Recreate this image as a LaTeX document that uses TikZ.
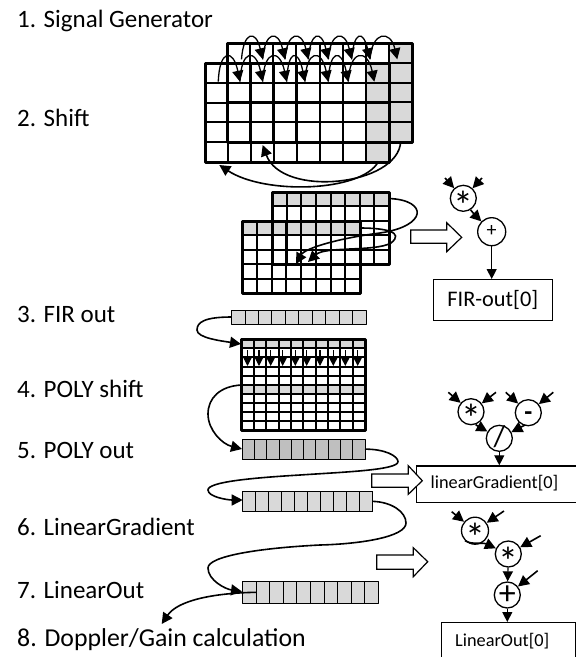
\documentclass[tikz,border=0pt]{standalone}
\usepackage{fontspec}
\setmainfont{Carlito}
\usetikzlibrary{arrows.meta}
\definecolor{cellgray}{HTML}{D9D9D9}
\definecolor{darkcell}{HTML}{BFBFBF}
\tikzset{
  x=1pt,y=-1pt,
  lbl/.style={anchor=west,inner sep=0pt,font=\fontsize{25}{27}\selectfont},
  conn/.style={line width=1.6pt,-{Triangle[length=11pt,width=11pt]}},
  thinarrow/.style={line width=1.2pt,-{Triangle[length=10pt,width=10pt]}},
  hollow/.style={draw,line width=1.2pt,fill=white,line join=miter},
  opc/.style={circle,draw,line width=1.3pt,fill=white,minimum size=26pt,inner sep=0pt},
  bx/.style={draw,line width=1.2pt,fill=white,inner sep=0pt,anchor=north west},
  region/.style={rectangle,inner sep=0pt,outer sep=0pt,anchor=north west}
}
% name, x, y, w, h, cols, rows, cell lw, outline lw
\newcommand{\gridbox}[9]{%
  \node[region,minimum width=#4pt,minimum height=#5pt] (#1) at (#2,#3) {};
  \foreach \ci in {1,...,\numexpr#6-1\relax}{
    \draw[line width=#8pt] ({#2+\ci*#4/#6},#3) -- ({#2+\ci*#4/#6},{#3+#5});}
  \foreach \ri in {1,...,\numexpr#7-1\relax}{
    \draw[line width=#8pt] (#2,{#3+\ri*#5/#7}) -- ({#2+#4},{#3+\ri*#5/#7});}
  \draw[line width=#9pt,line join=round] (#2,#3) rectangle ({#2+#4},{#3+#5});
}
\newcommand{\opsym}[3]{\makebox[0pt]{\raisebox{#2}[0pt][0pt]{\fontsize{#1}{#1}\selectfont #3}}}
\newcommand{\bigaster}{\opsym{40}{-21pt}{*}}
\begin{document}
\begin{tikzpicture}
\useasboundingbox (0,0) rectangle (576,657);
\fill[white] (0,0) rectangle (576,657);
% labels
\node[lbl] (l1) at (17,21) {1. Signal Generator};
\node[lbl] (l2) at (17,118) {2. Shift};
\node[lbl] (l3) at (17,314) {3. FIR out};
\node[lbl] (l4) at (17,389) {4. POLY shift};
\node[lbl] (l5) at (17,450) {5. POLY out};
\node[lbl] (l6) at (17,527) {6. LinearGradient};
\node[lbl] (l7) at (17,590) {7. LinearOut};
\node[lbl,font=\fontsize{25.8}{27}\selectfont] (l8) at (17,640) {8. Doppler/Gain calculation};

% step 2 grids
\fill[cellgray] (389,43) rectangle (412,142);
\fill[cellgray] (366,63) rectangle (389,162);
\gridbox{sb}{227}{43}{185}{99}{8}{5}{2}{3}
\gridbox{sf}{205}{63}{184}{99}{8}{5}{2}{3}
% arcs of front row
\foreach \n/\px in {0/218.3,1/240,2/262.7,3/286.7,4/305,5/328.3,6/348.3,7/374.3}
  \coordinate (fa\n) at (\px,81.7);
\foreach \n/\px in {0/241.5,1/262.7,2/285,3/308.3,4/328.3,5/351.7,6/370,7/397.3}
  \coordinate (ba\n) at (\px,59.3);
\foreach \a/\b in {0/1,1/2,2/3,3/4,4/5,5/6,6/7}{
  \draw[conn,line width=1.3pt] (fa\a) .. controls +(1,-32) and +(-7,-34) .. (fa\b);
}
\foreach \a/\b in {0/1,1/2,2/3,3/4,4/5,5/6,6/7}{
  \draw[conn,line width=1.3pt] (ba\a) .. controls +(2,-28) and +(-7,-30) .. (ba\b);
}
\coordinate (q1s) at (378.3,161.7);
\coordinate (q1e) at (219.3,165);
\coordinate (q2s) at (400.7,141.7);
\coordinate (q2e) at (262.7,145);
\draw[conn] (q1s) .. controls (362,192) and (265,195) .. (q1e);
\draw[conn] (q2s) .. controls (398,186) and (282,198) .. (q2e);

% step 2b grids
\fill[cellgray] (272,192) rectangle (389,206.4);
\fill[cellgray] (242,221) rectangle (360,235.4);
\gridbox{tb}{272}{192}{117}{72}{8}{5}{2}{3}
\gridbox{tf}{242}{221}{118}{72}{8}{5}{2}{3}
\coordinate (t1e) at (296,264);
\coordinate (t2e) at (308,262);
\coordinate (t1s) at (389,198.5);
\coordinate (t2s) at (360,228);
\draw[conn] (t1s) .. controls (428,200) and (428,226) .. (380,233) .. controls (340,238) and (305,248) .. (t1e);
\draw[conn] (t2s) .. controls (385,228) and (405,232) .. (391,243) .. controls (375,252) and (325,246) .. (t2e);

% FIR
\fill[cellgray] (231.7,310) rectangle (366,324);
\gridbox{fir}{231.7}{310}{134.3}{14}{10}{1}{1}{1}
\fill[cellgray] (241.7,339.3) rectangle (365,349.3);
\fill[cellgray] (241.7,385) rectangle (365,394);
\gridbox{poly}{241.7}{339.3}{123.3}{90.7}{10}{10}{2}{3}
\foreach \i/\px in {0/247.5,1/259,2/270.7,3/282.7,4/295.3,5/306.7,6/320,7/333.3,8/345.3,9/357.7}{
  \coordinate (ps\i) at (\px,350);
  \coordinate (pe\i) at (\px,366);
  \draw[thinarrow] (ps\i) -- (pe\i);
}
\draw[conn] (fir.west) .. controls (205,317) and (197,322) .. (197,330) .. controls (197,338) and (222,341) .. (241,344);
\coordinate (polyl) at (241.7,385);
\draw[conn] (polyl) .. controls (220,386) and (208,398) .. (208,414) .. controls (208,430) and (222,444) .. (242,449);

% POLY out
\fill[darkcell] (242.3,439.3) rectangle (365,459);
\gridbox{po}{242.3}{439.3}{122.7}{19.7}{10}{1}{1}{1}
\draw[conn] (po.east) .. controls (385,449) and (398,456) .. (398,461.7) .. controls (398,470) and (345,472) .. (300,475) .. controls (250,478) and (208,482) .. (208,490) .. controls (208,497) and (228,500) .. (242.7,500);

% Linear gradient
\fill[cellgray] (242.7,491.7) rectangle (372.7,511);
\gridbox{lg}{242.7}{491.7}{130}{19.3}{10}{1}{1}{1}
\coordinate (lo1) at (242,591.5);
\draw[conn] (lg.east) .. controls (392,502) and (406,512) .. (406,523) .. controls (406,537) and (360,544) .. (320,545) .. controls (260,548) and (208,556) .. (208,568) .. controls (208,580) and (225,589) .. (lo1);

% LinearOut
\fill[cellgray] (242.7,581.7) rectangle (378.3,603.3);
\gridbox{lo}{242.7}{581.7}{135.6}{21.6}{10}{1}{1}{1}
\coordinate (los) at (256,592.3);
\coordinate (los2) at (242.7,592.3);
\draw[line width=1.2pt] (los2) -- (los);
\coordinate (loe) at (161.7,624);
\draw[conn] (los) .. controls (215,593) and (178,600) .. (loe);

% hollow arrows
\draw[hollow] (410.7,230) -- (446.7,230) -- (446.7,222.7) -- (461.7,237.3) -- (446.7,251.7) -- (446.7,243.3) -- (410.7,243.3) -- cycle;

% FIR op
\node[opc] (m1) at (463.3,198.3) {\bigaster};
\node[opc,minimum size=28pt] (p1) at (491.7,231.7) {\opsym{20}{-5pt}{+}};
\node[bx,minimum width=119pt,minimum height=41pt,font=\fontsize{22.3}{24}\selectfont] (firbox) at (432.7,279) {FIR-out[0]};
\coordinate (i1) at (445,178);
\coordinate (i2) at (482,178);
\draw[conn] (i1) -- (m1);
\draw[conn] (i2) -- (m1);
\draw[conn] (m1) .. controls (472,212) .. (p1);
\draw[thinarrow] (p1) -- (firbox.north -| p1);

% linear gradient box
\node[bx,minimum width=175pt,minimum height=36.4pt] (lgbox) at (416,465.3) {};
\node[anchor=west,inner sep=0pt,font=\fontsize{18.3}{20}\selectfont] (lgt) at (430.5,483.5) {linearGradient[0]};
\draw[hollow] (371.7,474) -- (408.3,474) -- (408.3,465.7) -- (422.3,480.7) -- (408.3,494.3) -- (408.3,487.3) -- (371.7,487.3) -- cycle;
\node[opc] (m2) at (471,411.7) {\bigaster};
\node[opc] (s2) at (528.3,412.7) {\opsym{26}{-8pt}{\bfseries -}};
\node[opc] (d2) at (499.3,438.3) {\opsym{30}{-8pt}{/}};
\coordinate (i3) at (448.3,392.3);
\coordinate (i4) at (496,392.3);
\coordinate (i5) at (505.7,392.3);
\coordinate (i6) at (553.3,392.3);
\draw[conn] (i3) -- (m2);
\draw[conn] (i4) -- (m2);
\draw[conn] (i5) -- (s2);
\draw[conn] (i6) -- (s2);
\draw[conn] (m2) .. controls (476,425) .. (d2);
\draw[conn] (s2) .. controls (525,425) .. (d2);
\draw[thinarrow] (d2) -- (lgbox.north -| d2);

% linear out
\draw[hollow] (376.7,555) -- (413.3,555) -- (413.3,547.7) -- (427.7,561.7) -- (413.3,576.7) -- (413.3,569.3) -- (376.7,569.3) -- cycle;
\node[opc,minimum size=27pt] (m3) at (475,530.7) {\bigaster};
\node[opc] (m4) at (508.3,554) {\bigaster};
\node[opc] (p3) at (507.3,595) {\opsym{34}{-9pt}{+}};
\node[bx,minimum width=134.3pt,minimum height=45pt] (lobox) at (440.7,622) {};
\node[anchor=west,inner sep=0pt,font=\fontsize{18.3}{20}\selectfont] (lot) at (455,641.5) {LinearOut[0]};
\coordinate (i7) at (451.7,511.7);
\coordinate (i8) at (504,511);
\coordinate (i9) at (540.7,535.7);
\coordinate (i10) at (537.7,570.7);
\draw[conn] (i7) -- (m3);
\draw[conn] (i8) -- (m3);
\draw[conn] (i9) -- (m4);
\draw[conn] (i10) -- (p3);
\draw[conn] (m3.south west) .. controls (472,545) and (482,542) .. (m4);
\draw[thinarrow] (m4) -- (p3);
\draw[thinarrow] (p3) -- (lobox.north -| p3);
\end{tikzpicture}
\end{document}
